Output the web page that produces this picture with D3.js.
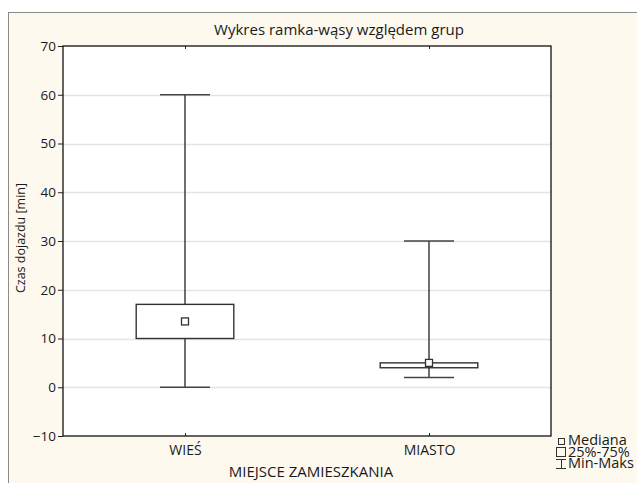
<!DOCTYPE html>
<html>
<head>
<meta charset="utf-8">
<script src="https://cdn.jsdelivr.net/npm/d3@7"></script>
<style>
  html, body { margin: 0; padding: 0; background: #ffffff; }
  svg { display: block; }
  text { font-family: "Open Sans", "Noto Sans", sans-serif; fill: #1a1a1a; }
</style>
</head>
<body>
<svg id="chart" width="637" height="483"></svg>
<script>
// Groups and their box-plot summaries (minutes)
const categories = ["WIEŚ", "MIASTO"];
const mins    = [0, 2];
const q1s     = [10, 4];
const medians = [13.5, 5];
const q3s     = [17, 5];
const maxs    = [60, 30];
const yTicks  = [-10, 0, 10, 20, 30, 40, 50, 60, 70];
const legendLabels = ["Mediana", "25%-75%", "Min-Maks"];

const svg = d3.select("#chart");
const W = 637, H = 483;
const plot = { left: 63, right: 551, top: 46, bottom: 436 };

// Outer panel
svg.append("rect")
  .attr("x", 8.5).attr("y", 12.5)
  .attr("width", W).attr("height", H)
  .attr("fill", "#fdf9ef").attr("stroke", "#8a8a8a").attr("stroke-width", 1);

// Plot area
svg.append("rect")
  .attr("x", plot.left).attr("y", plot.top)
  .attr("width", plot.right - plot.left).attr("height", plot.bottom - plot.top)
  .attr("fill", "#ffffff");

const y = d3.scaleLinear().domain([-10, 70]).range([plot.bottom, plot.top]);
const x = d3.scalePoint().domain(categories).range([plot.left, plot.right]).padding(0.5);
const boxW = (plot.right - plot.left) * 0.2;
const capW = 50;

// Grid lines
svg.append("g").selectAll("line")
  .data(yTicks.slice(1, -1))
  .join("line")
  .attr("x1", plot.left).attr("x2", plot.right)
  .attr("y1", d => Math.round(y(d)) + 0.5).attr("y2", d => Math.round(y(d)) + 0.5)
  .attr("stroke", "#e4e4e4").attr("stroke-width", 1.5);

// Y axis
const yAxis = svg.append("g")
  .attr("transform", `translate(${plot.left},0)`)
  .call(d3.axisLeft(y).tickValues(yTicks).tickSize(5).tickPadding(2));
yAxis.select(".domain").remove();
yAxis.selectAll(".tick line").attr("stroke", "#222");
yAxis.selectAll("text").style("font-size", "13.5px").attr("fill", "#1a1a1a");

// X axis (bottom, inward ticks)
const xAxis = svg.append("g")
  .attr("transform", `translate(0,${plot.bottom})`)
  .call(d3.axisBottom(x).tickSizeInner(-3).tickSizeOuter(0));
xAxis.select(".domain").remove();
xAxis.selectAll(".tick line").attr("stroke", "#222");
xAxis.selectAll("text")
  .attr("y", 19).attr("dy", null)
  .style("font-size", "14px").attr("fill", "#1a1a1a");

// Top ticks
const xTop = svg.append("g")
  .attr("transform", `translate(0,${plot.top})`)
  .call(d3.axisTop(x).tickSizeInner(-3).tickSizeOuter(0).tickFormat(""));
xTop.select(".domain").remove();
xTop.selectAll(".tick line").attr("stroke", "#222");

// Plot frame
svg.append("rect")
  .attr("x", plot.left).attr("y", plot.top)
  .attr("width", plot.right - plot.left).attr("height", plot.bottom - plot.top)
  .attr("fill", "none").attr("stroke", "#111").attr("stroke-width", 1.3);

// Boxes
const groups = svg.append("g").selectAll("g")
  .data(categories.map((c, i) => ({ c, min: mins[i], q1: q1s[i], med: medians[i], q3: q3s[i], max: maxs[i] })))
  .join("g");

groups.append("line")
  .attr("x1", d => x(d.c)).attr("x2", d => x(d.c))
  .attr("y1", d => y(d.max)).attr("y2", d => y(d.q3))
  .attr("stroke", "#222").attr("stroke-width", 1.3);
groups.append("line")
  .attr("x1", d => x(d.c)).attr("x2", d => x(d.c))
  .attr("y1", d => y(d.q1)).attr("y2", d => y(d.min))
  .attr("stroke", "#222").attr("stroke-width", 1.3);
groups.append("line")
  .attr("x1", d => x(d.c) - capW / 2).attr("x2", d => x(d.c) + capW / 2)
  .attr("y1", d => y(d.max)).attr("y2", d => y(d.max))
  .attr("stroke", "#444").attr("stroke-width", 1.6);
groups.append("line")
  .attr("x1", d => x(d.c) - capW / 2).attr("x2", d => x(d.c) + capW / 2)
  .attr("y1", d => y(d.min)).attr("y2", d => y(d.min))
  .attr("stroke", "#444").attr("stroke-width", 1.6);
groups.append("rect")
  .attr("x", d => x(d.c) - boxW / 2).attr("width", boxW)
  .attr("y", d => y(d.q3)).attr("height", d => y(d.q1) - y(d.q3))
  .attr("fill", "#ffffff").attr("stroke", "#333").attr("stroke-width", 1.4);
groups.append("rect")
  .attr("x", d => x(d.c) - 3.5).attr("y", d => y(d.med) - 3.5)
  .attr("width", 7).attr("height", 7)
  .attr("fill", "#ffffff").attr("stroke", "#333").attr("stroke-width", 1.3);

// Titles
svg.append("text")
  .attr("x", 339).attr("y", 35)
  .attr("text-anchor", "middle").style("font-size", "15px")
  .text("Wykres ramka-wąsy względem grup");
svg.append("text")
  .attr("x", 311).attr("y", 477)
  .attr("text-anchor", "middle").style("font-size", "15px")
  .text("MIEJSCE ZAMIESZKANIA");
svg.append("text")
  .attr("transform", `translate(25,238) rotate(-90)`)
  .attr("text-anchor", "middle").style("font-size", "12.5px")
  .text("Czas dojazdu [min]");

// Legend
const lg = svg.append("g").attr("transform", "translate(556,0)");
lg.append("rect").attr("x", 2.5).attr("y", 438.5).attr("width", 6).attr("height", 6)
  .attr("fill", "none").attr("stroke", "#333");
lg.append("rect").attr("x", 0.5).attr("y", 447.5).attr("width", 9).attr("height", 9)
  .attr("fill", "none").attr("stroke", "#333");
lg.append("line").attr("x1", 0).attr("x2", 10).attr("y1", 459.5).attr("y2", 459.5).attr("stroke", "#333");
lg.append("line").attr("x1", 0).attr("x2", 10).attr("y1", 468.5).attr("y2", 468.5).attr("stroke", "#333");
lg.append("line").attr("x1", 5.5).attr("x2", 5.5).attr("y1", 459.5).attr("y2", 468.5).attr("stroke", "#333");
lg.selectAll("text.lab")
  .data(legendLabels)
  .join("text")
  .attr("class", "lab")
  .attr("x", 12).attr("y", (d, i) => 445 + i * 11.7)
  .style("font-size", "14.5px")
  .text(d => d);
</script>
</body>
</html>
